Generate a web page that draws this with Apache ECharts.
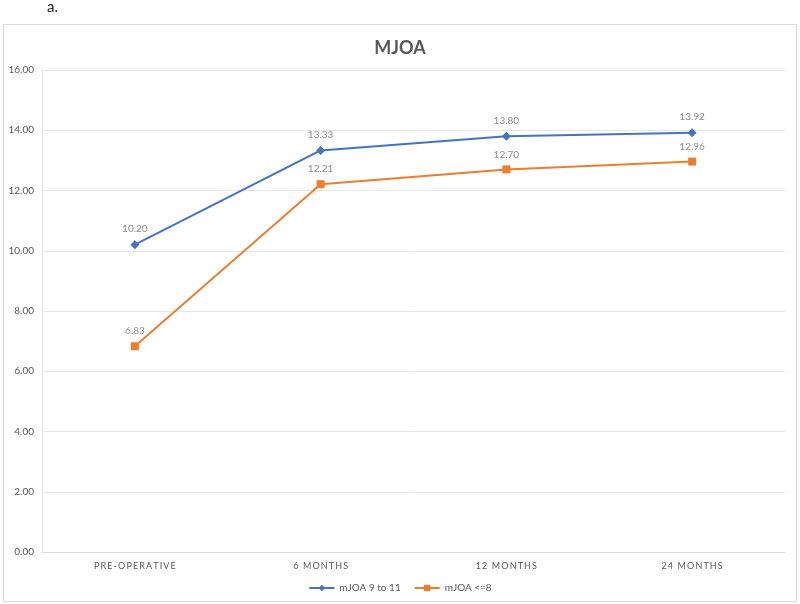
<!DOCTYPE html>
<html>
<head>
<meta charset="utf-8">
<title>MJOA</title>
<script src="https://cdn.jsdelivr.net/npm/echarts@6/dist/echarts.min.js"></script>
<style>
  html, body { margin: 0; padding: 0; background: #fff; }
  #chart { width: 800px; height: 604px; }
</style>
</head>
<body>
<div id="chart"></div>
<script>
// data
const categories = ['PRE-OPERATIVE', '6 MONTHS', '12 MONTHS', '24 MONTHS']
const mildValues = [10.20, 13.33, 13.80, 13.92]
const severeValues = [6.83, 12.21, 12.70, 12.96]
const seriesNames = ['mJOA 9 to 11', 'mJOA <=8']

const font = 'Lato, "Open Sans", sans-serif'

// excel style spaced-out capitals
function spaced(s) {
  return s.split('').join('\u2009')
}

const chart = echarts.init(document.getElementById('chart'))

chart.setOption({
  animation: false,
  graphic: [{
    type: 'rect',
    shape: { x: 3.5, y: 24.5, width: 793, height: 577 },
    style: { fill: 'none', stroke: '#d9d9d9', lineWidth: 1 },
    silent: true
  }, {
    type: 'text',
    left: 47,
    top: 0,
    style: { text: 'a.', font: '15px ' + font, fill: '#222' }
  }],
  title: {
    text: 'MJOA',
    left: 'center',
    top: 34,
    textStyle: { fontSize: 18, fontWeight: 'bold', color: '#595959', fontFamily: font }
  },
  grid: {
    left: 42,
    right: 15,
    top: 70,
    bottom: 52,
    containLabel: false
  },
  legend: {
    bottom: 6,
    left: 'center',
    itemWidth: 25,
    itemHeight: 8,
    itemGap: 13,
    textStyle: { fontSize: 10, color: '#595959', fontFamily: font },
    data: seriesNames
  },
  xAxis: {
    type: 'category',
    data: categories,
    boundaryGap: true,
    axisLine: { lineStyle: { color: '#d9d9d9' } },
    axisTick: { show: false },
    axisLabel: {
      fontSize: 9,
      color: '#595959',
      margin: 10,
      fontFamily: font,
      formatter: v => spaced(v)
    }
  },
  yAxis: {
    type: 'value',
    min: 0,
    max: 16,
    interval: 2,
    axisLine: { show: true, lineStyle: { color: '#e6e6e6' } },
    axisTick: { show: false },
    splitLine: { lineStyle: { color: '#e6e6e6' } },
    axisLabel: {
      fontSize: 10,
      color: '#595959',
      margin: 8,
      fontFamily: font,
      formatter: v => v.toFixed(2)
    }
  },
  series: [{
    name: seriesNames[0],
    type: 'line',
    data: mildValues,
    symbol: 'diamond',
    symbolSize: 9,
    itemStyle: { color: '#4472c4' },
    lineStyle: { color: '#4472c4', width: 2 },
    label: {
      show: true,
      position: 'top',
      distance: 6,
      fontSize: 10,
      color: '#8c8c8c',
      fontFamily: font,
      formatter: p => p.value.toFixed(2)
    }
  }, {
    name: seriesNames[1],
    type: 'line',
    data: severeValues,
    symbol: 'rect',
    symbolSize: 8,
    itemStyle: { color: '#ed7d31' },
    lineStyle: { color: '#ed7d31', width: 2 },
    label: {
      show: true,
      position: 'top',
      distance: 6,
      fontSize: 10,
      color: '#8c8c8c',
      fontFamily: font,
      formatter: p => p.value.toFixed(2)
    }
  }]
})
</script>
</body>
</html>
